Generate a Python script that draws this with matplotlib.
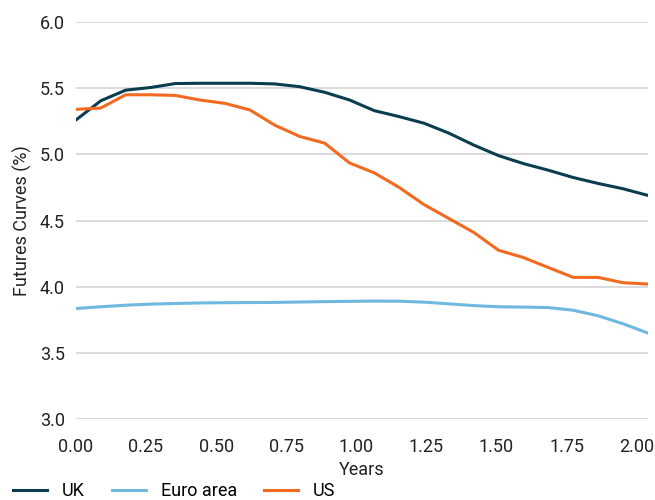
import numpy as np
import matplotlib
matplotlib.use("Agg")
import matplotlib.pyplot as plt
from matplotlib.ticker import FormatStrFormatter

plt.rcParams['font.family'] = ['Roboto', 'DejaVu Sans']

# monthly points
years = np.arange(24) * (2.04 / 23)

uk = [5.26, 5.405, 5.485, 5.505, 5.535, 5.537, 5.537, 5.537, 5.532, 5.511,
      5.469, 5.411, 5.33, 5.285, 5.235, 5.16, 5.07, 4.99, 4.93, 4.88,
      4.825, 4.78, 4.74, 4.69]
euro = [3.835, 3.848, 3.860, 3.868, 3.873, 3.877, 3.879, 3.880, 3.881, 3.884,
        3.887, 3.889, 3.891, 3.890, 3.883, 3.870, 3.857, 3.848, 3.846, 3.842,
        3.822, 3.780, 3.720, 3.650]
us = [5.34, 5.35, 5.45, 5.45, 5.445, 5.41, 5.385, 5.335, 5.22, 5.135,
      5.085, 4.935, 4.86, 4.75, 4.62, 4.515, 4.41, 4.275, 4.22, 4.145,
      4.07, 4.07, 4.03, 4.02]

xticks = [0, 0.25, 0.5, 0.75, 1.0, 1.25, 1.5, 1.75, 2.0]
yticks = [3.0, 3.5, 4.0, 4.5, 5.0, 5.5, 6.0]

fig = plt.figure(figsize=(6.55, 5), dpi=100)
ax = fig.add_axes([0.116, 0.162, 0.873, 0.794])

ax.plot(years, uk, color='#0a3d4f', lw=2.2, label='UK')
ax.plot(years, euro, color='#6fb8e0', lw=2.2, label='Euro area')
ax.plot(years, us, color='#f26a1f', lw=2.2, label='US')

ax.set_xlim(0, 2.04)
ax.set_ylim(3.0, 6.0)
ax.set_xticks(xticks)
ax.set_yticks(yticks)
ax.xaxis.set_major_formatter(FormatStrFormatter('%.2f'))
ax.yaxis.set_major_formatter(FormatStrFormatter('%.1f'))
ax.tick_params(length=0, labelsize=13, colors='#222222')
ax.tick_params(axis='x', pad=14)
ax.tick_params(axis='y', pad=8)
ax.grid(axis='y', color='#d4d4d4', lw=1.2)
ax.set_axisbelow(True)
for s in ax.spines.values():
    s.set_visible(False)

ax.set_xlabel('Years', fontsize=13, color='#222222', labelpad=3)
ax.set_ylabel('Futures Curves (%)', fontsize=13, color='#222222', labelpad=6)

fig.legend(loc='center left', bbox_to_anchor=(0.02, 0.017), ncol=3, frameon=False,
           fontsize=13, handlelength=1.9, columnspacing=1.5, handletextpad=0.8,
           borderpad=0, borderaxespad=0)

fig.savefig('out.png', dpi=100)
